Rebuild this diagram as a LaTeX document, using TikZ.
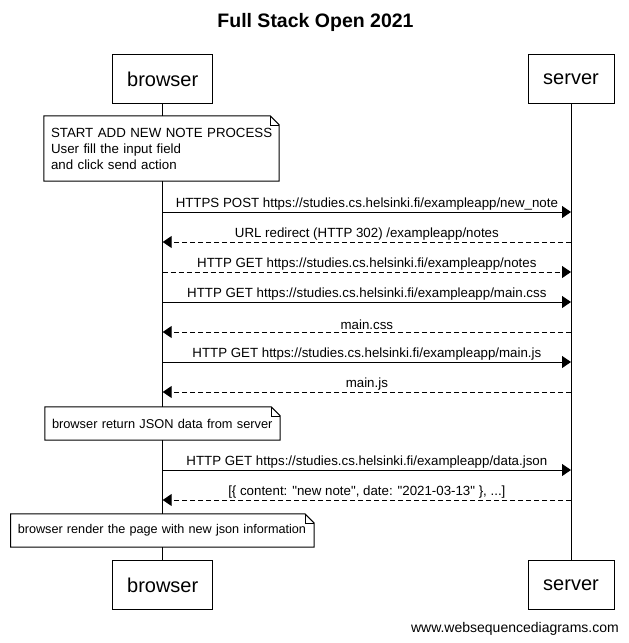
\documentclass[tikz,border=0pt]{standalone}
\usepackage{fontspec}
\setmainfont{Liberation Sans}
\usetikzlibrary{arrows.meta}
\begin{document}
\begin{tikzpicture}[x=1pt,y=-1pt,
  actor/.style={draw, line width=1pt, fill=white, font=\fontsize{20}{24}\selectfont, minimum height=49pt, inner xsep=0pt},
  note/.style={fill=white, font=\fontsize{13.3}{16}\selectfont, align=left, inner xsep=7pt, inner ysep=0pt},
  noteline/.style={line width=1pt, line join=miter},
  life/.style={line width=1pt},
  msg/.style={line width=1pt, -{Triangle[length=9pt,width=12pt]}},
  reply/.style={msg, dash pattern=on 5pt off 3pt},
  lbl/.style={font=\fontsize{13.3}{16}\selectfont, inner sep=1.5pt, above}
]
\useasboundingbox (0,0) rectangle (629,643);
\fill[white] (0,0) rectangle (629,643);

\node[font=\bfseries\fontsize{19.5}{23}\selectfont] (title) at (315.5,22) {Full Stack Open 2021};

% actors
\node[actor, minimum width=100pt] (bt) at (162.7,79) {browser};
\node[actor, minimum width=86pt] (st) at (571,79) {server};
\node[actor, minimum width=100pt] (bb) at (162.7,585) {browser};
\node[actor, minimum width=86pt] (sb) at (571,585) {server};

% lifelines
\draw[life] (bt.south) -- (bb.north);
\draw[life] (st.south) -- (sb.north);

% note 1
\node[note, text width=221pt, minimum height=65pt] (n1) at (161.5,148.5) {\mbox{START ADD NEW NOTE PROCESS}\\\mbox{User fill the input field}\\\mbox{and click send action}};
\draw[noteline] (n1.south west) -- (n1.north west) -- ([xshift=-9pt]n1.north east) -- ([yshift=-9pt]n1.north east) -- (n1.south east) -- cycle;
\draw[line width=0.6pt] ([xshift=-9pt]n1.north east) -- ([xshift=-9pt,yshift=-9pt]n1.north east) -- ([yshift=-9pt]n1.north east);

% messages
\foreach \i/\yy in {1/212,2/242,3/272,4/302,5/332,6/362,7/392,8/470,9/500}{
  \coordinate (b\i) at (162.7,\yy);
  \coordinate (s\i) at (571,\yy);
}
\draw[msg] (b1) -- (s1) node[lbl, midway] {HTTPS POST https://studies.cs.helsinki.fi/exampleapp/new\_note};
\draw[reply] (s2) -- (b2) node[lbl, midway] {URL redirect (HTTP 302) /exampleapp/notes};
\draw[reply] (b3) -- (s3) node[lbl, midway] {HTTP GET https://studies.cs.helsinki.fi/exampleapp/notes};
\draw[msg] (b4) -- (s4) node[lbl, midway] {HTTP GET https://studies.cs.helsinki.fi/exampleapp/main.css};
\draw[reply] (s5) -- (b5) node[lbl, midway] {main.css};
\draw[msg] (b6) -- (s6) node[lbl, midway] {HTTP GET https://studies.cs.helsinki.fi/exampleapp/main.js};
\draw[reply] (s7) -- (b7) node[lbl, midway] {main.js};

% note 2
\node[note, font=\fontsize{12.8}{16}\selectfont, text width=221pt, minimum height=33pt] (n2) at (162.5,423.5) {\mbox{browser return JSON data from server}};
\draw[noteline] (n2.south west) -- (n2.north west) -- ([xshift=-9pt]n2.north east) -- ([yshift=-9pt]n2.north east) -- (n2.south east) -- cycle;
\draw[line width=0.6pt] ([xshift=-9pt]n2.north east) -- ([xshift=-9pt,yshift=-9pt]n2.north east) -- ([yshift=-9pt]n2.north east);

\draw[msg] (b8) -- (s8) node[lbl, midway] {HTTP GET https://studies.cs.helsinki.fi/exampleapp/data.json};
\draw[reply] (s9) -- (b9) node[lbl, midway] {[\{ content: \textquotedbl new note\textquotedbl, date: \textquotedbl 2021-03-13\textquotedbl\ \}, ...]};

% note 3
\node[note, font=\fontsize{12.65}{16}\selectfont, text width=289pt, minimum height=33pt] (n3) at (162.3,530.5) {\mbox{browser render the page with new json information}};
\draw[noteline] (n3.south west) -- (n3.north west) -- ([xshift=-9pt]n3.north east) -- ([yshift=-9pt]n3.north east) -- (n3.south east) -- cycle;
\draw[line width=0.6pt] ([xshift=-9pt]n3.north east) -- ([xshift=-9pt,yshift=-9pt]n3.north east) -- ([yshift=-9pt]n3.north east);

\node[anchor=east, font=\fontsize{14}{17}\selectfont, inner sep=0pt] (footer) at (619,629) {www.websequencediagrams.com};
\end{tikzpicture}
\end{document}
